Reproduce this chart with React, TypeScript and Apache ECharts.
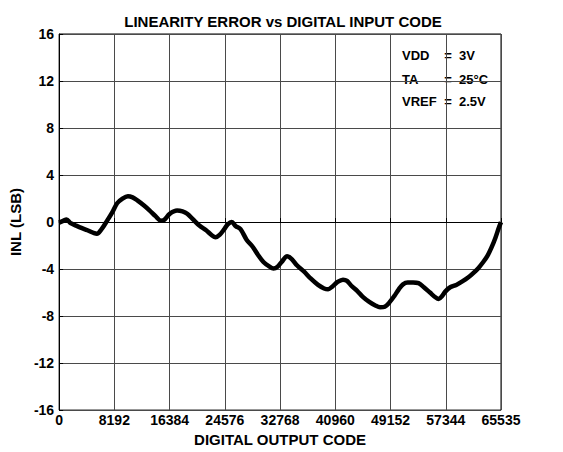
import { useEffect, useRef } from "react";
import * as echarts from "echarts";

const codes = [
  0, 600, 1100, 1700, 2500, 3300, 4200, 5200, 5600, 6300, 7100, 7900, 8600, 9400, 10200, 10900,
  11600, 12500, 13400, 14300, 15100, 15500, 16400, 17500, 18300, 19000, 19900, 20800, 21800,
  22600, 23200, 23800, 24500, 25000, 25600, 26200, 26900, 27800, 28700, 29500, 30300, 31100,
  31800, 32400, 33000, 33800, 34500, 35300, 36300, 37300, 38400, 39300, 39900, 40500, 41300,
  42100, 42700, 43300, 44200, 45000, 46000, 46900, 47600, 48300, 48900, 49700, 50400, 51000,
  51700, 52500, 53300, 54100, 55000, 55800, 56300, 56800, 57300, 58000, 58900, 59800, 60700,
  61500, 62200, 62900, 63500, 64100, 64700, 65200, 65535,
];
const inl = [
  -0.05, 0.1, 0.22, -0.1, -0.3, -0.5, -0.7, -0.95, -1.0, -0.6, 0.1, 0.85, 1.6, 2.0, 2.2, 2.1,
  1.85, 1.45, 1.0, 0.5, 0.12, 0.15, 0.7, 0.98, 0.9, 0.7, 0.2, -0.3, -0.7,
  -1.1, -1.3, -1.1, -0.6, -0.2, 0.0, -0.35, -0.6, -1.5, -2.1, -2.8, -3.4, -3.75,
  -3.95, -3.8, -3.4, -2.9, -3.15, -3.7, -4.2, -4.8, -5.35, -5.65, -5.72, -5.5, -5.1,
  -4.9, -5.0, -5.4, -5.85, -6.35, -6.8, -7.1, -7.25, -7.2, -6.9, -6.3, -5.7, -5.3,
  -5.15, -5.15, -5.2, -5.55, -6.0, -6.4, -6.55, -6.3, -5.9, -5.55, -5.35, -5.05, -4.7,
  -4.3, -3.9, -3.4, -2.9, -2.2, -1.35, -0.5, 0.0,
];

const xMin = 0;
const xMax = 65535;
const xStep = 8192;
const yMin = -16;
const yMax = 16;
const yStep = 4;

const titleText = "LINEARITY ERROR vs DIGITAL INPUT CODE";
const xName = "DIGITAL OUTPUT CODE";
const yName = "INL (LSB)";
const condLabels = ["VDD", "TA", "VREF"];
const condValues = ["3V", "25°C", "2.5V"];

const FONT = 'Arial, "Liberation Sans", sans-serif';

export default function App() {
  const ref = useRef<HTMLDivElement>(null);
  useEffect(() => {
    if (!ref.current) return;
    const chart = echarts.init(ref.current, null, { renderer: "svg" });
    const rowY = [55, 79, 101];
    const boxes: any[] = [
      { type: "rect", shape: { x: 393, y: 42, width: 98, height: 23 }, style: { fill: "#fff" } },
      { type: "rect", shape: { x: 393, y: 67, width: 98, height: 22 }, style: { fill: "#fff" } },
      { type: "rect", shape: { x: 393, y: 91, width: 98, height: 18 }, style: { fill: "#fff" } },
    ];
    const texts: any[] = [];
    condLabels.forEach((l, i) => {
      const base = { fontFamily: FONT, fontWeight: "bold", fontSize: 13, fill: "#000", verticalAlign: "middle" };
      texts.push({ type: "text", x: 402, y: rowY[i], style: { ...base, text: l, align: "left" } });
      texts.push({ type: "text", x: 448, y: rowY[i], style: { ...base, text: "=", align: "center" } });
      texts.push({ type: "text", x: 459, y: rowY[i], style: { ...base, text: condValues[i], align: "left" } });
    });
    chart.setOption({
      animation: false,
      backgroundColor: "#fff",
      title: {
        text: titleText,
        left: 278,
        textAlign: "center",
        top: 9,
        textStyle: { fontFamily: FONT, fontWeight: "bold", fontSize: 15, color: "#000" },
      },
      grid: {
        left: 58,
        right: 62,
        top: 34,
        bottom: 40,
        show: true,
        borderColor: "#000",
        borderWidth: 1,
        backgroundColor: "transparent",
      },
      xAxis: {
        type: "value",
        min: xMin,
        max: xMax,
        interval: xStep,
        name: xName,
        nameLocation: "middle",
        nameGap: 20,
        nameTextStyle: { fontFamily: FONT, fontWeight: "bold", fontSize: 15, color: "#000" },
        axisLine: { lineStyle: { color: "#000", width: 1 } },
        axisTick: { inside: true, length: 4, lineStyle: { color: "#000" } },
        axisLabel: {
          fontFamily: FONT,
          fontWeight: "bold",
          fontSize: 14,
          color: "#000",
          margin: 3,
          formatter: (v: number) => String(v),
        },
        splitLine: { show: true, lineStyle: { color: "#4a4a4a", width: 1 } },
      },
      yAxis: {
        type: "value",
        min: yMin,
        max: yMax,
        interval: yStep,
        name: yName,
        nameLocation: "middle",
        nameGap: 36,
        nameTextStyle: { fontFamily: FONT, fontWeight: "bold", fontSize: 15, color: "#000" },
        axisLine: { show: true, lineStyle: { color: "#000", width: 1 } },
        axisTick: { show: true, inside: true, length: 4, lineStyle: { color: "#000" } },
        axisLabel: { fontFamily: FONT, fontWeight: "bold", fontSize: 14, color: "#000", margin: 5 },
        splitLine: { show: true, lineStyle: { color: "#4a4a4a", width: 1 } },
      },
      series: [
        {
          type: "line",
          data: codes.map((c, i) => [c, inl[i]]),
          showSymbol: false,
          smooth: 0.3,
          lineStyle: { color: "#000", width: 4.5 },
          z: 3,
        },
      ],
      graphic: [...boxes, ...texts],
    });
    return () => chart.dispose();
  }, []);
  return (
    <div
      ref={ref}
      style={{ position: "absolute", left: 0, top: 0, width: 563, height: 452 }}
    />
  );
}
